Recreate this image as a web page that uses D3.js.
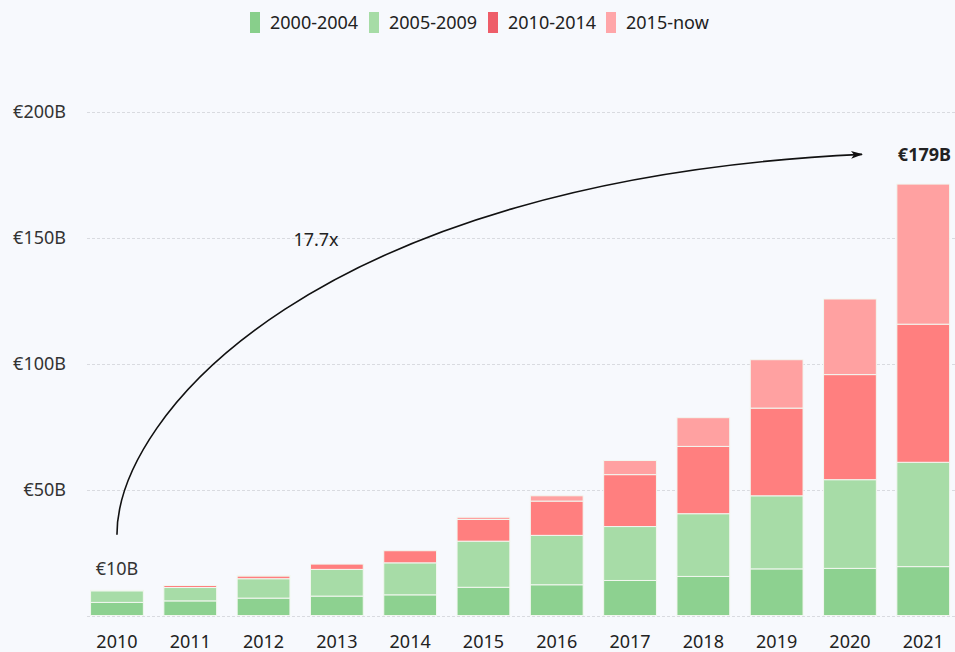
<!DOCTYPE html>
<html><head><meta charset="utf-8">
<script src="https://cdn.jsdelivr.net/npm/d3@7"></script>
<style>
html,body{margin:0;padding:0;background:#f7f9fd;}
svg{display:block;font-family:"Source Sans Pro","Noto Sans",sans-serif;}
</style></head>
<body>
<svg id="chart" width="955" height="652"></svg>
<script>
const years = ["2010","2011","2012","2013","2014","2015","2016","2017","2018","2019","2020","2021"];
const seriesNames = ["2000-2004","2005-2009","2010-2014","2015-now"];
const v2000_2004 = [5.2, 5.8, 6.9, 7.7, 8.2, 11.2, 12.2, 13.9, 15.5, 18.5, 18.7, 19.4];
const v2005_2009 = [4.6, 5.3, 7.7, 10.6, 12.7, 18.3, 19.6, 21.4, 24.9, 29.0, 35.2, 41.4];
const v2010_2014 = [0.2, 0.8, 1.1, 2.1, 4.8, 8.6, 13.6, 20.6, 26.7, 34.8, 41.7, 54.8];
const v2015_now  = [0, 0, 0.2, 0, 0, 0.9, 2.1, 5.6, 11.4, 19.2, 30.0, 55.6];
const barColors = ["#8dd190", "#a7dca7", "#ff7f7f", "#ffa1a1"];
const legendColors = ["#88cf8b", "#a6dca6", "#ee5d69", "#ffa6a9"];
const yTicks = [50, 100, 150, 200];
const yTickLabels = ["€50B", "€100B", "€150B", "€200B"];
const startLabel = "€10B", startLabelValue = 18.5;
const endLabel = "€179B";
const multLabel = "17.7x";
const arrowStartValue = 32, arrowEndValue = 183;

const svg = d3.select("#chart");
const W = 955, H = 652;
const FS = 18;
const x = d3.scaleBand().domain(years).range([80.3, 959.9]).paddingInner(0.28).paddingOuter(0.14);
const y = d3.scaleLinear().domain([0, 200]).range([615.5, 111.5]);

const rows = years.map((yr, i) => ({year: yr, s0: v2000_2004[i], s1: v2005_2009[i], s2: v2010_2014[i], s3: v2015_now[i]}));
const stack = d3.stack().keys(["s0","s1","s2","s3"])(rows);

// grid
svg.append("g").selectAll("line").data([0].concat(yTicks)).join("line")
  .attr("x1", 87).attr("x2", W).attr("y1", d => Math.round(y(d)) + 0.5).attr("y2", d => Math.round(y(d)) + 0.5)
  .attr("stroke", "#d9dbe0").attr("stroke-width", 1).attr("stroke-dasharray", "3,2");

// y labels
svg.append("g").selectAll("text").data(yTicks).join("text")
  .attr("x", 66).attr("y", d => y(d)).attr("dy", "0.35em").attr("text-anchor", "end")
  .attr("font-size", FS).attr("fill", "#333").text((d, i) => yTickLabels[i]);

// bars
svg.append("g").selectAll("g").data(stack).join("g")
  .attr("fill", (d, i) => barColors[i])
  .selectAll("rect").data(d => d.filter(p => p[1] - p[0] > 0)).join("rect")
  .attr("x", d => x(d.data.year)).attr("width", x.bandwidth())
  .attr("y", d => y(d[1])).attr("height", d => y(d[0]) - y(d[1]))
  .attr("stroke", "#f2f7f0").attr("stroke-width", 1);

// x labels
svg.append("g").selectAll("text").data(years).join("text")
  .attr("x", d => x(d) + x.bandwidth() / 2).attr("y", 642).attr("dy", "0.35em").attr("text-anchor", "middle")
  .attr("font-size", FS).attr("fill", "#222").text(d => d);

// legend
const legX = [250, 369, 488, 606];
const leg = svg.append("g").selectAll("g").data(seriesNames).join("g")
  .attr("transform", (d, i) => `translate(${legX[i]},0)`);
leg.append("rect").attr("x", 0).attr("y", 12).attr("width", 10).attr("height", 21).attr("fill", (d, i) => legendColors[i]);
leg.append("text").attr("x", 20).attr("y", 23).attr("dy", "0.35em").attr("font-size", FS).attr("fill", "#222").text(d => d);

// annotation arrow
const defs = svg.append("defs");
defs.append("marker").attr("id", "arrow").attr("viewBox", "0 0 12 10").attr("refX", 11).attr("refY", 5)
  .attr("markerWidth", 12).attr("markerHeight", 10).attr("markerUnits", "userSpaceOnUse").attr("orient", "auto")
  .append("path").attr("d", "M0,1 L12,5 L0,9 L3,5 Z").attr("fill", "#111");

const sx = x("2010") + x.bandwidth() / 2, sy = y(arrowStartValue);
const ex = 862, ey = y(arrowEndValue);
const p = d3.path();
p.moveTo(sx, sy);
p.bezierCurveTo(sx, sy - 120, sx + 200, sy - 355, ex, ey);
svg.append("path")
  .attr("d", p.toString())
  .attr("fill", "none").attr("stroke", "#111").attr("stroke-width", 1.6).attr("marker-end", "url(#arrow)");

svg.append("text").attr("x", sx).attr("y", y(startLabelValue)).attr("dy", "0.35em")
  .attr("text-anchor", "middle").attr("font-size", FS).attr("fill", "#333").text(startLabel);
svg.append("text").attr("x", 316).attr("y", 240).attr("dy", "0.35em")
  .attr("text-anchor", "middle").attr("font-size", FS).attr("fill", "#222").text(multLabel);
svg.append("text").attr("x", 951).attr("y", ey).attr("dy", "0.35em")
  .attr("text-anchor", "end").attr("font-size", FS).attr("font-weight", "bold").attr("fill", "#222").text(endLabel);
</script>
</body></html>
